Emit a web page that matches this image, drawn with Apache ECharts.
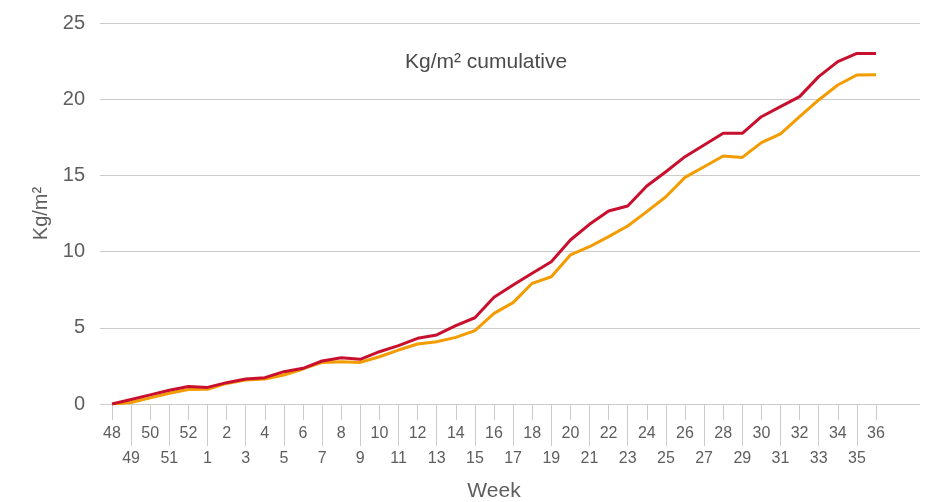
<!DOCTYPE html>
<html>
<head>
<meta charset="utf-8">
<script src="https://cdn.jsdelivr.net/npm/echarts@6/dist/echarts.min.js"></script>
<style>
  html, body { margin: 0; padding: 0; background: #fff; }
  #chart { width: 947px; height: 502px; }
</style>
</head>
<body>
<div id="chart"></div>
<script>
// weeks 48..52 then 1..36
let weeks = ['48', '49', '50', '51', '52', '1', '2', '3', '4', '5', '6', '7', '8', '9', '10',
  '11', '12', '13', '14', '15', '16', '17', '18', '19', '20', '21', '22', '23', '24', '25',
  '26', '27', '28', '29', '30', '31', '32', '33', '34', '35', '36']
let redValues = [0, 0.3, 0.6, 0.9, 1.15, 1.09, 1.4, 1.64, 1.73, 2.12, 2.34, 2.82, 3.04, 2.93, 3.43,
  3.83, 4.31, 4.53, 5.14, 5.66, 7.0, 7.81, 8.58, 9.34, 10.76, 11.79, 12.66, 12.99, 14.3, 15.24,
  16.23, 17.0, 17.76, 17.76, 18.85, 19.51, 20.17, 21.48, 22.47, 23.0, 23.0]
let orangeValues = [0, 0.1, 0.4, 0.7, 0.95, 0.96, 1.35, 1.57, 1.64, 1.9, 2.3, 2.73, 2.78, 2.73, 3.1,
  3.54, 3.94, 4.09, 4.37, 4.81, 5.95, 6.65, 7.92, 8.35, 9.78, 10.32, 10.98, 11.68, 12.62, 13.6,
  14.87, 15.57, 16.27, 16.18, 17.15, 17.72, 18.85, 19.95, 20.93, 21.59, 21.6]
let yTicks = [0, 5, 10, 15, 20, 25]

let font = '"Liberation Sans", Arial, sans-serif'
let gray = '#cfcbcb'
let textColor = '#5e5e5e'

let chart = echarts.init(document.getElementById('chart'), null, { renderer: 'canvas' })

let isEven = function (index) { return index % 2 === 0 }
let isOdd = function (index) { return index % 2 === 1 }

let option = {
  animation: false,
  textStyle: { fontFamily: font },
  title: {
    text: 'Kg/m² cumulative',
    left: 400,
    top: 47,
    textStyle: { fontFamily: font, fontSize: 21, fontWeight: 'normal', color: '#4a4a4a' }
  },
  grid: [
    // grid 0 only carries the horizontal lines and y labels
    { left: 100, right: 27, top: 23, bottom: 98, outerBoundsMode: 'none' },
    // grid 1 holds the weeks and the lines
    { left: 112, right: 71, top: 23, bottom: 98, outerBoundsMode: 'none' }
  ],
  xAxis: [
    { gridIndex: 0, type: 'value', show: false },
    {
      gridIndex: 1,
      type: 'category',
      position: 'bottom',
      data: weeks,
      boundaryGap: false,
      name: 'Week',
      nameLocation: 'middle',
      nameGap: 77,
      nameTextStyle: { fontFamily: font, fontSize: 21, color: textColor },
      axisLine: { show: false },
      axisTick: { show: true, interval: isEven, length: 16, lineStyle: { color: gray } },
      axisLabel: { interval: isEven, margin: 22, fontSize: 16, color: textColor }
    },
    {
      gridIndex: 1,
      type: 'category',
      position: 'bottom',
      data: weeks,
      boundaryGap: false,
      axisLine: { show: false },
      axisTick: { show: true, interval: isOdd, length: 42, lineStyle: { color: gray } },
      axisLabel: { interval: isOdd, margin: 47, fontSize: 16, color: textColor }
    }
  ],
  yAxis: [
    {
      gridIndex: 0,
      type: 'value',
      min: yTicks[0],
      max: yTicks[yTicks.length - 1],
      interval: 5,
      name: 'Kg/m²',
      nameLocation: 'middle',
      nameGap: 47,
      nameTextStyle: { fontFamily: font, fontSize: 20, color: textColor },
      axisLine: { show: false },
      axisTick: { show: false },
      axisLabel: { margin: 15, fontSize: 20, color: textColor },
      splitLine: { show: true, lineStyle: { color: gray, width: 1 } }
    },
    {
      gridIndex: 1,
      type: 'value',
      min: yTicks[0],
      max: yTicks[yTicks.length - 1],
      interval: 5,
      show: false,
      splitLine: { show: false }
    }
  ],
  series: [
    {
      name: 'orange',
      type: 'line',
      xAxisIndex: 1,
      yAxisIndex: 1,
      data: orangeValues,
      symbol: 'none',
      lineStyle: { color: '#f39c00', width: 3 },
      itemStyle: { color: '#f39c00' }
    },
    {
      name: 'red',
      type: 'line',
      xAxisIndex: 1,
      yAxisIndex: 1,
      data: redValues,
      symbol: 'none',
      lineStyle: { color: '#c8102e', width: 3 },
      itemStyle: { color: '#c8102e' }
    }
  ]
}
chart.setOption(option)
</script>
</body>
</html>
